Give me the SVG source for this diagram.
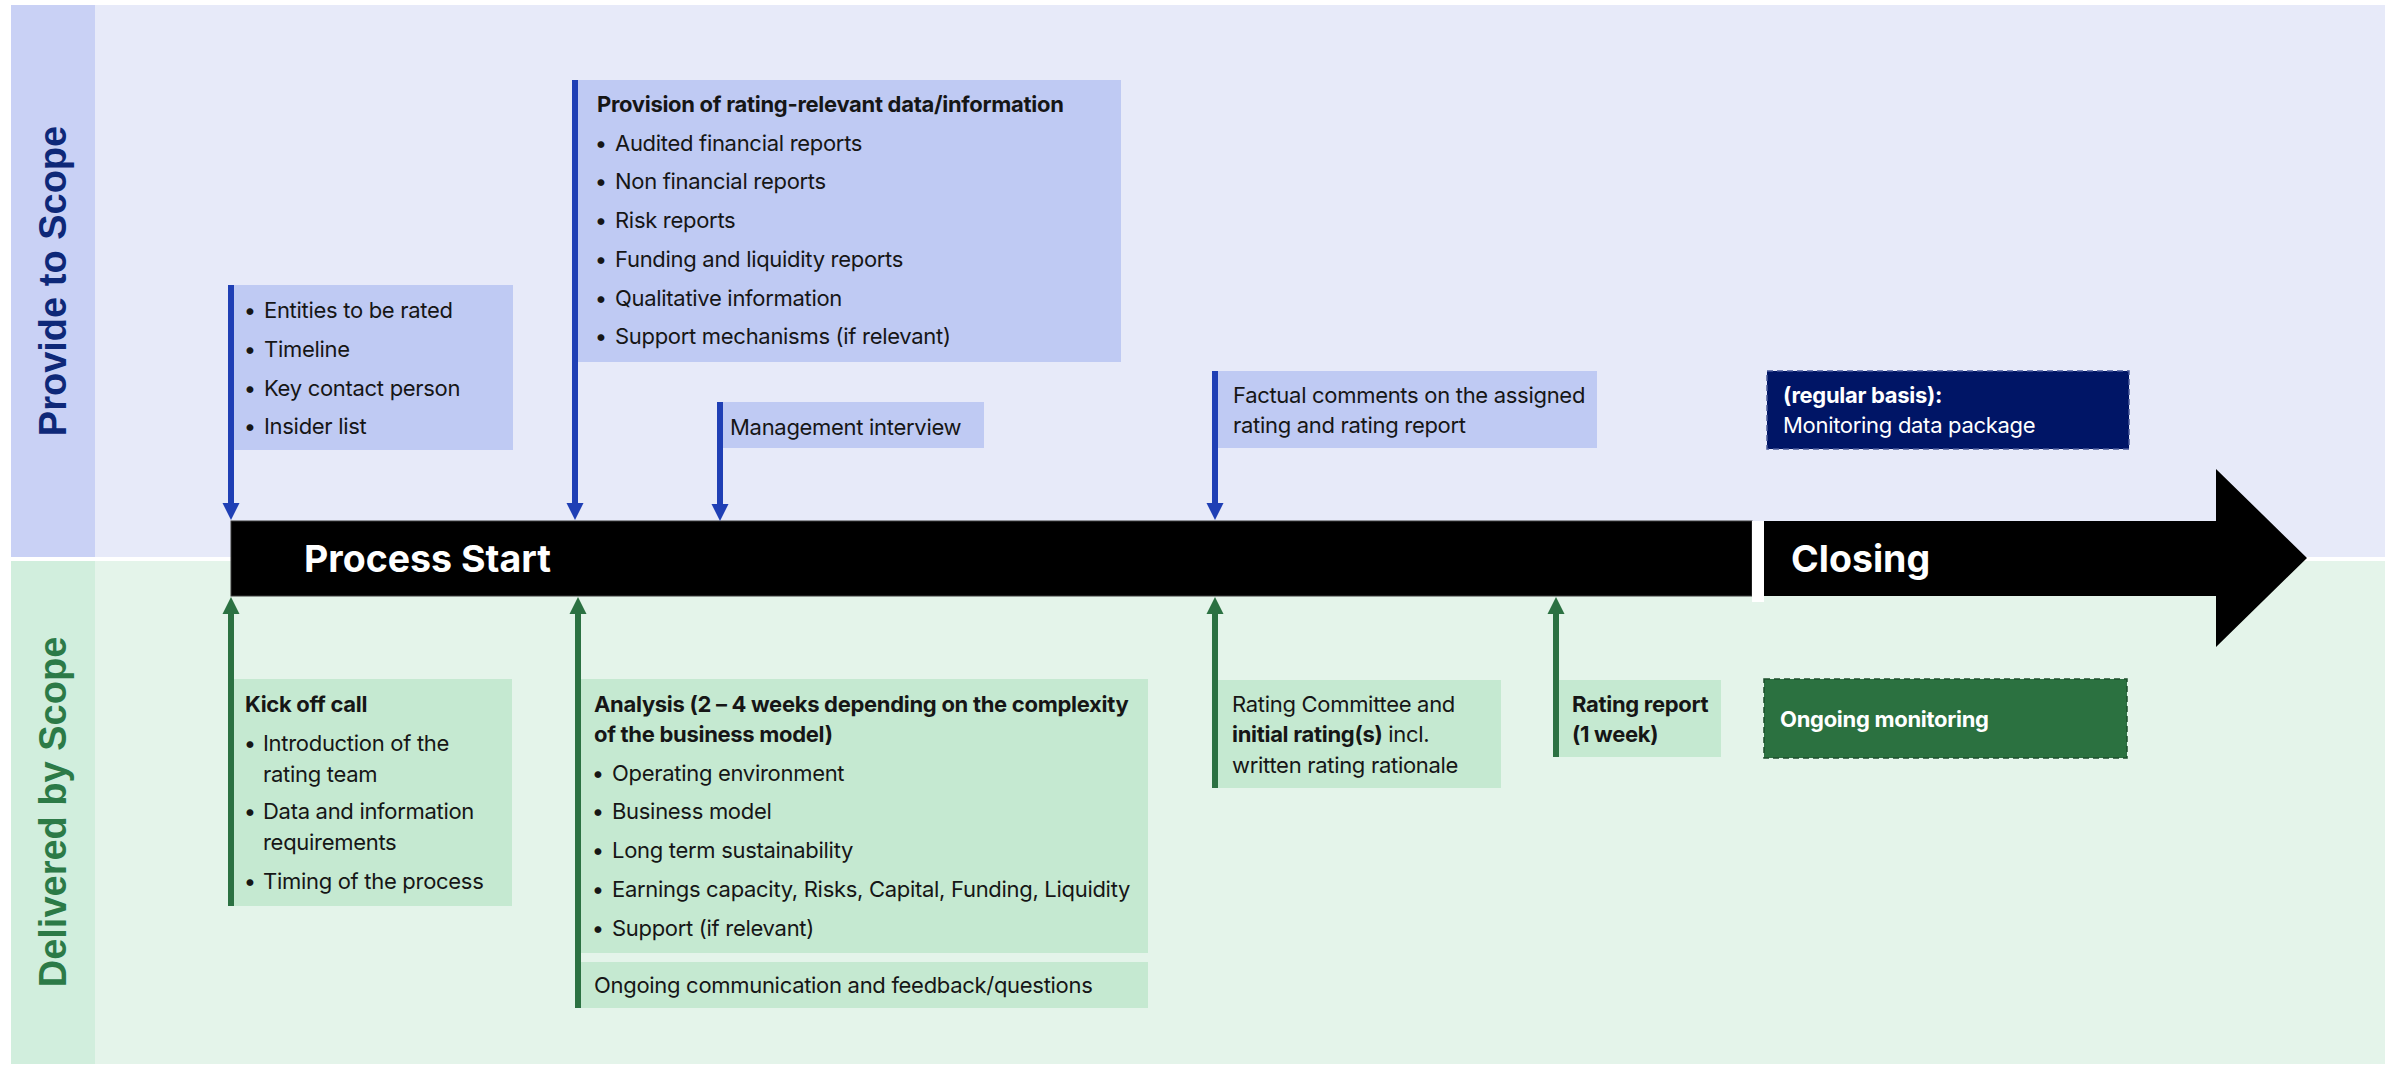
<svg xmlns="http://www.w3.org/2000/svg" width="2394" height="1066" viewBox="0 0 2394 1066">
  <defs>
    <style>
      .t{font-family:Inter,"Noto Sans","Liberation Sans",sans-serif;font-size:22px;letter-spacing:-0.3px;fill:#161616}
      .b{font-weight:700}
      .w{fill:#ffffff}
      .bul{text-anchor:middle;letter-spacing:0}
      .lane{font-family:"Liberation Sans",Arial,sans-serif;font-size:38px;font-weight:700;text-anchor:middle}
      .phase{font-family:Inter,"Liberation Sans",sans-serif;font-size:37.5px;font-weight:700;fill:#ffffff}
      .bbox{fill:#bfcaf3}
      .gbox{fill:#c5e9d1}
      .bl{stroke:#1f3fb5;stroke-width:6;fill:none}
      .gl{stroke:#2b7142;stroke-width:6;fill:none}
    </style>
  </defs>

  <!-- lanes -->
  <g id="lane-provide">
    <rect x="11" y="5" width="2374" height="552" fill="#e7eaf9"/>
    <rect x="11" y="5" width="84" height="552" fill="#c9d1f5"/>
    <text class="lane" fill="#0e2878" transform="translate(66,281) rotate(-90)">Provide to Scope</text>
  </g>
  <g id="lane-delivered">
    <rect x="11" y="561" width="2374" height="503" fill="#e4f4ea"/>
    <rect x="11" y="561" width="84" height="503" fill="#d1eedd"/>
    <text class="lane" fill="#2c7a47" transform="translate(66,812) rotate(-90)">Delivered by Scope</text>
  </g>

  <!-- timeline -->
  <g id="timeline-start">
    <rect x="231" y="521" width="1521" height="75" fill="#000" stroke="#3a3a3a" stroke-width="1"/>
    <text class="phase" x="304" y="572">Process Start</text>
  </g>
  <g id="timeline-closing">
    <rect x="1752" y="521" width="12" height="81" fill="#ffffff"/>
    <polygon points="1764,521 2216,521 2216,469 2307,558 2216,647 2216,596 1764,596" fill="#000"/>
    <text class="phase" x="1791" y="572">Closing</text>
  </g>

  <!-- connectors -->
  <g id="connectors">
    <line class="bl" x1="231" y1="285" x2="231" y2="505"/>
    <polygon points="222.5,503 239.5,503 231,520" fill="#1f3fb5"/>
    <line class="bl" x1="575" y1="80" x2="575" y2="505"/>
    <polygon points="566.5,503 583.5,503 575,520" fill="#1f3fb5"/>
    <line class="bl" x1="720" y1="402" x2="720" y2="506"/>
    <polygon points="711.5,504 728.5,504 720,521" fill="#1f3fb5"/>
    <line class="bl" x1="1215" y1="371" x2="1215" y2="505"/>
    <polygon points="1206.5,503 1223.5,503 1215,520" fill="#1f3fb5"/>

    <line class="gl" x1="231" y1="906" x2="231" y2="612"/>
    <polygon points="222.5,614 239.5,614 231,597" fill="#2b7142"/>
    <line class="gl" x1="578" y1="1008" x2="578" y2="612"/>
    <polygon points="569.5,614 586.5,614 578,597" fill="#2b7142"/>
    <line class="gl" x1="1215" y1="788" x2="1215" y2="612"/>
    <polygon points="1206.5,614 1223.5,614 1215,597" fill="#2b7142"/>
    <line class="gl" x1="1556" y1="757" x2="1556" y2="612"/>
    <polygon points="1547.5,614 1564.5,614 1556,597" fill="#2b7142"/>
  </g>

  <!-- provide nodes -->
  <g id="node-entities">
    <rect class="bbox" x="234" y="285" width="279" height="165"/>
    <text class="t bul" x="250" y="318">•</text><text class="t" x="264" y="318">Entities to be rated</text>
    <text class="t bul" x="250" y="357">•</text><text class="t" x="264" y="357">Timeline</text>
    <text class="t bul" x="250" y="396">•</text><text class="t" x="264" y="396">Key contact person</text>
    <text class="t bul" x="250" y="434">•</text><text class="t" x="264" y="434">Insider list</text>
  </g>
  <g id="node-provision">
    <rect class="bbox" x="578" y="80" width="543" height="282"/>
    <text class="t b" x="597" y="112">Provision of rating-relevant data/information</text>
    <text class="t bul" x="601" y="151">•</text><text class="t" x="615" y="151">Audited financial reports</text>
    <text class="t bul" x="601" y="189">•</text><text class="t" x="615" y="189">Non financial reports</text>
    <text class="t bul" x="601" y="228">•</text><text class="t" x="615" y="228">Risk reports</text>
    <text class="t bul" x="601" y="267">•</text><text class="t" x="615" y="267">Funding and liquidity reports</text>
    <text class="t bul" x="601" y="306">•</text><text class="t" x="615" y="306">Qualitative information</text>
    <text class="t bul" x="601" y="344">•</text><text class="t" x="615" y="344">Support mechanisms (if relevant)</text>
  </g>
  <g id="node-management">
    <rect class="bbox" x="723" y="402" width="261" height="46"/>
    <text class="t" x="730" y="435">Management interview</text>
  </g>
  <g id="node-factual">
    <rect class="bbox" x="1218" y="371" width="379" height="77"/>
    <text class="t" x="1233" y="403">Factual comments on the assigned</text>
    <text class="t" x="1233" y="433">rating and rating report</text>
  </g>
  <g id="node-monitoring-data">
    <rect x="1767" y="371" width="362" height="78" fill="#001566" stroke="#4a5a9a" stroke-width="1.5" stroke-dasharray="6,4"/>
    <text class="t b w" x="1783" y="403">(regular basis):</text>
    <text class="t w" x="1783" y="433">Monitoring data package</text>
  </g>

  <!-- delivered nodes -->
  <g id="node-kickoff">
    <rect class="gbox" x="234" y="679" width="278" height="227"/>
    <text class="t b" x="245" y="712">Kick off call</text>
    <text class="t bul" x="250" y="751">•</text><text class="t" x="263" y="751">Introduction of the</text>
    <text class="t" x="263" y="782">rating team</text>
    <text class="t bul" x="250" y="819">•</text><text class="t" x="263" y="819">Data and information</text>
    <text class="t" x="263" y="850">requirements</text>
    <text class="t bul" x="250" y="889">•</text><text class="t" x="263" y="889">Timing of the process</text>
  </g>
  <g id="node-analysis">
    <rect class="gbox" x="581" y="679" width="567" height="274"/>
    <text class="t b" x="594" y="712">Analysis (2 – 4 weeks depending on the complexity</text>
    <text class="t b" x="594" y="742">of the business model)</text>
    <text class="t bul" x="598" y="781">•</text><text class="t" x="612" y="781">Operating environment</text>
    <text class="t bul" x="598" y="819">•</text><text class="t" x="612" y="819">Business model</text>
    <text class="t bul" x="598" y="858">•</text><text class="t" x="612" y="858">Long term sustainability</text>
    <text class="t bul" x="598" y="897">•</text><text class="t" x="612" y="897">Earnings capacity, Risks, Capital, Funding, Liquidity</text>
    <text class="t bul" x="598" y="936">•</text><text class="t" x="612" y="936">Support (if relevant)</text>
  </g>
  <g id="node-communication">
    <rect class="gbox" x="581" y="962" width="567" height="46"/>
    <text class="t" x="594" y="993">Ongoing communication and feedback/questions</text>
  </g>
  <g id="node-committee">
    <rect class="gbox" x="1218" y="680" width="283" height="108"/>
    <text class="t" x="1232" y="712">Rating Committee and</text>
    <text class="t" x="1232" y="742"><tspan class="b">initial rating(s)</tspan> incl.</text>
    <text class="t" x="1232" y="773">written rating rationale</text>
  </g>
  <g id="node-report">
    <rect class="gbox" x="1559" y="680" width="162" height="77"/>
    <text class="t b" x="1572" y="712">Rating report</text>
    <text class="t b" x="1572" y="742">(1 week)</text>
  </g>
  <g id="node-monitoring">
    <rect x="1764" y="679" width="363" height="79" fill="#2b7140" stroke="#1c4d2b" stroke-width="1.5" stroke-dasharray="6,4"/>
    <text class="t b w" x="1780" y="727">Ongoing monitoring</text>
  </g>
</svg>
